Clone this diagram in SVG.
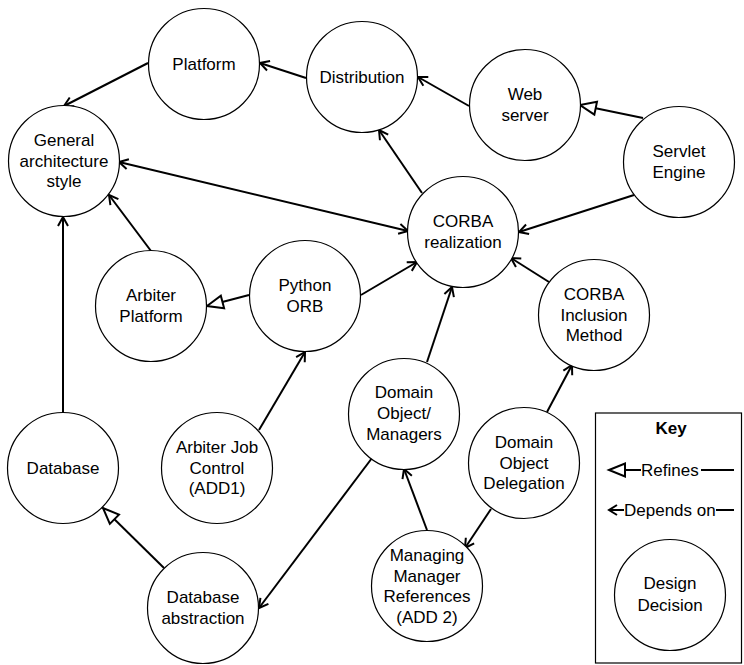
<svg xmlns="http://www.w3.org/2000/svg" width="744" height="665" viewBox="0 0 744 665">
<style>
.n circle{fill:#fff;stroke:#000;stroke-width:1.2}
text{font-family:"Liberation Sans",Arial,sans-serif;font-size:17px;fill:#000;text-anchor:middle}
text.s{text-anchor:start}
.c line{stroke:#000;stroke-width:2;fill:none}
.dep{marker-end:url(#dep)}
.ref{marker-end:url(#ref)}
</style>
<defs>
<marker id="dep" markerUnits="userSpaceOnUse" viewBox="-11 -7 13 14" refX="0" refY="0" markerWidth="13" markerHeight="14" orient="auto-start-reverse">
<path d="M-9,-5 L0,0 L-9,5" fill="none" stroke="#000" stroke-width="2"/>
</marker>
<marker id="ref" markerUnits="userSpaceOnUse" viewBox="-18 -9 20 18" refX="0" refY="0" markerWidth="20" markerHeight="18" orient="auto">
<path d="M-16,-6.5 L0,0 L-16,6.5 Z" fill="#fff" stroke="#000" stroke-width="2" stroke-linejoin="miter"/>
</marker>
</defs>
<rect width="744" height="665" fill="#fff"/>
<g id="connectors" class="c">
<line class="dep" x1="148" y1="63" x2="64" y2="106"/>
<line class="dep" x1="306" y1="78" x2="260" y2="63"/>
<line class="dep" x1="469" y1="106" x2="418" y2="77"/>
<line class="ref" x1="643" y1="118" x2="580" y2="105"/>
<line class="dep" x1="422" y1="193" x2="379" y2="130"/>
<line class="dep" x1="634" y1="195" x2="519" y2="232"/>
<line class="dep" x1="408" y1="231" x2="119" y2="162" marker-start="url(#dep)"/>
<line class="dep" x1="151" y1="251" x2="109" y2="195"/>
<line class="ref" x1="249" y1="295" x2="207" y2="306"/>
<line class="dep" x1="361" y1="295" x2="417" y2="262"/>
<line class="dep" x1="427" y1="362" x2="452" y2="287"/>
<line class="dep" x1="549" y1="282" x2="511" y2="258"/>
<line class="dep" x1="63" y1="413" x2="63" y2="217"/>
<line class="dep" x1="259" y1="430" x2="305" y2="352"/>
<line class="ref" x1="164" y1="568" x2="103" y2="508"/>
<line class="dep" x1="372" y1="458" x2="259" y2="608"/>
<line class="dep" x1="547" y1="412" x2="572" y2="365"/>
<line class="dep" x1="491" y1="509" x2="465" y2="548"/>
<line class="dep" x1="427" y1="530" x2="404" y2="469"/>
</g>
<g id="platform" class="n"><circle cx="204" cy="64" r="55.5"/><text x="204" y="70">Platform</text></g>
<g id="general" class="n"><circle cx="64" cy="161" r="55.5"/><text x="64" y="146">General</text><text x="64" y="167">architecture</text><text x="64" y="187">style</text></g>
<g id="distribution" class="n"><circle cx="362" cy="77" r="55.5"/><text x="362" y="83">Distribution</text></g>
<g id="webserver" class="n"><circle cx="525" cy="105" r="55.5"/><text x="525" y="100">Web</text><text x="525" y="121">server</text></g>
<g id="servlet" class="n"><circle cx="679" cy="162" r="55.5"/><text x="679" y="157">Servlet</text><text x="679" y="178">Engine</text></g>
<g id="corba" class="n"><circle cx="463" cy="232" r="55.5"/><text x="463" y="227">CORBA</text><text x="463" y="248">realization</text></g>
<g id="corbainclusion" class="n"><circle cx="594" cy="315" r="55.5"/><text x="594" y="300">CORBA</text><text x="594" y="321">Inclusion</text><text x="594" y="341">Method</text></g>
<g id="arbiterplatform" class="n"><circle cx="151" cy="306" r="55.5"/><text x="151" y="301">Arbiter</text><text x="151" y="322">Platform</text></g>
<g id="pythonorb" class="n"><circle cx="305" cy="296" r="55.5"/><text x="305" y="291">Python</text><text x="305" y="312">ORB</text></g>
<g id="database" class="n"><circle cx="63" cy="468" r="55.5"/><text x="63" y="474">Database</text></g>
<g id="arbiterjob" class="n"><circle cx="217" cy="468" r="55.5"/><text x="217" y="453">Arbiter Job</text><text x="217" y="474">Control</text><text x="217" y="494">(ADD1)</text></g>
<g id="dbabstraction" class="n"><circle cx="203" cy="608" r="55.5"/><text x="203" y="603">Database</text><text x="203" y="624">abstraction</text></g>
<g id="domainmanagers" class="n"><circle cx="404" cy="414" r="55.5"/><text x="404" y="398">Domain</text><text x="404" y="419">Object/</text><text x="404" y="440">Managers</text></g>
<g id="domaindelegation" class="n"><circle cx="524" cy="463" r="55.5"/><text x="524" y="448">Domain</text><text x="524" y="469">Object</text><text x="524" y="489">Delegation</text></g>
<g id="managingrefs" class="n"><circle cx="427" cy="586" r="55.5"/><text x="427" y="561">Managing</text><text x="427" y="582">Manager</text><text x="427" y="602">References</text><text x="427" y="623">(ADD 2)</text></g>
<g id="key">
<rect x="595.5" y="413" width="146" height="250" fill="none" stroke="#000" stroke-width="1.2"/>
<text x="671" y="434" font-weight="bold">Key</text>
<path d="M609,470 L625,463.5 L625,476.5 Z" fill="#fff" stroke="#000" stroke-width="2"/>
<line x1="625" y1="470" x2="641" y2="470" stroke="#000" stroke-width="2"/>
<text class="s" x="641" y="476">Refines</text>
<line x1="701" y1="470" x2="734" y2="470" stroke="#000" stroke-width="2"/>
<path d="M617,505 L609,510 L617,515" fill="none" stroke="#000" stroke-width="2"/>
<line x1="609" y1="510" x2="624" y2="510" stroke="#000" stroke-width="2"/>
<text class="s" x="624" y="516">Depends on</text>
<line x1="716" y1="510" x2="734" y2="510" stroke="#000" stroke-width="2"/>
<g id="designdecision" class="n"><circle cx="670" cy="595" r="55.5"/><text x="670" y="589">Design</text><text x="670" y="611">Decision</text></g>
</g>
</svg>
